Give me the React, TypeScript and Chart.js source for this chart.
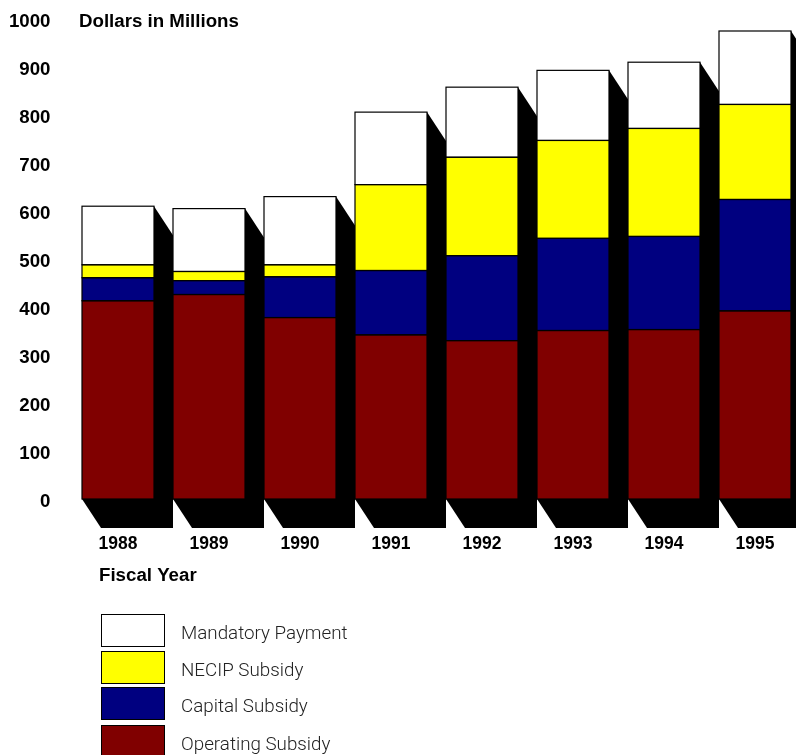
import React, { useEffect, useRef } from "react";
import { Chart, registerables } from "chart.js";

Chart.register(...registerables);

const years = ["1988", "1989", "1990", "1991", "1992", "1993", "1994", "1995"];
const operating = [413, 426, 378, 342, 330, 351, 353, 392];
const capital = [48, 29, 85, 134, 177, 192, 194, 232];
const necip = [27, 19, 25, 179, 205, 204, 225, 198];
const mandatory = [122, 131, 142, 151, 146, 146, 138, 153];
const yTicks = [0, 100, 200, 300, 400, 500, 600, 700, 800, 900, 1000];
const yUnits = "Dollars in Millions";
const xUnits = "Fiscal Year";
const BOLD = "bold 18.7px 'Liberation Sans', Arial, sans-serif";
const LIGHT = "300 18.8px Roboto, 'Liberation Sans', sans-serif";

const DEPTH_X = 19;
const DEPTH_Y = 29;

const extrude = {
  id: "extrude",
  beforeDatasetsDraw(chart: any) {
    const { ctx } = chart;
    const base = chart.getDatasetMeta(0).data;
    const top = chart.getDatasetMeta(3).data;
    ctx.save();
    ctx.fillStyle = "#000";
    base.forEach((b: any, i: number) => {
      const t = top[i];
      const l = b.x - b.width / 2;
      const r = b.x + b.width / 2;
      const by = chart.scales.y.getPixelForValue(0);
      ctx.beginPath();
      ctx.moveTo(l, by);
      ctx.lineTo(l + DEPTH_X, by + DEPTH_Y);
      ctx.lineTo(r + DEPTH_X, by + DEPTH_Y);
      ctx.lineTo(r + DEPTH_X, t.y + DEPTH_Y);
      ctx.lineTo(r, t.y);
      ctx.closePath();
      ctx.fill();
    });
    ctx.restore();
  },
  afterDatasetsDraw(chart: any) {
    const { ctx } = chart;
    ctx.save();
    ctx.strokeStyle = "#000";
    ctx.lineWidth = 1.2;
    chart.data.datasets.forEach((_: any, d: number) => {
      chart.getDatasetMeta(d).data.forEach((e: any) => {
        ctx.strokeRect(e.x - e.width / 2, e.y, e.width, e.base - e.y);
      });
    });
    ctx.restore();
  },
};

const annotations = {
  id: "annotations",
  afterDraw(chart: any) {
    const { ctx } = chart;
    ctx.save();
    ctx.fillStyle = "#000";
    ctx.font = BOLD;
    ctx.textBaseline = "middle";
    ctx.textAlign = "left";
    ctx.fillText(yUnits, 79, 22);
    ctx.fillText(xUnits, 99, 576);
    const rows = [...chart.data.datasets].reverse();
    const boxTops = [614, 651, 687, 725];
    rows.forEach((ds: any, i: number) => {
      ctx.fillStyle = ds.backgroundColor;
      ctx.strokeStyle = "#000";
      ctx.lineWidth = 1;
      ctx.fillRect(101, boxTops[i], 64, 32);
      ctx.strokeRect(101.5, boxTops[i] + 0.5, 63, 32);
      ctx.fillStyle = "#222";
      ctx.font = LIGHT;
      ctx.fillText(ds.label, 181, boxTops[i] + 20);
    });
    ctx.restore();
  },
};

export default function App() {
  const ref = useRef<HTMLCanvasElement>(null);
  useEffect(() => {
    const mk = (label: string, data: number[], color: string) => ({
      label,
      data,
      backgroundColor: color,
      borderWidth: 0,
      barPercentage: 72 / 91,
      categoryPercentage: 1,
    });
    const chart = new Chart(ref.current!, {
      type: "bar",
      data: {
        labels: years,
        datasets: [
          mk("Operating Subsidy", operating, "#800000"),
          mk("Capital Subsidy", capital, "#000080"),
          mk("NECIP Subsidy", necip, "#ffff00"),
          mk("Mandatory Payment", mandatory, "#ffffff"),
        ],
      },
      plugins: [extrude, annotations],
      options: {
        animation: false,
        responsive: false,
        layout: { padding: { left: 0, right: 29.5, top: 19, bottom: 0 } },
        plugins: { legend: { display: false }, title: { display: false }, tooltip: { enabled: false } },
        scales: {
          x: {
            stacked: true,
            grid: { display: false },
            border: { display: false },
            afterFit: (s: any) => { s.height = 256; },
            ticks: {
              color: "#000",
              font: { family: "'Liberation Sans', Arial, sans-serif", size: 17.5, weight: "bold" },
              padding: 27,
              maxRotation: 0,
            },
          },
          y: {
            stacked: true,
            min: 0,
            max: 1000,
            grid: { display: false },
            border: { display: false },
            afterFit: (s: any) => {
              s.width = 72.5;
              s.paddingTop = 0;
              s.paddingBottom = 0;
              if (!s.__shifted) {
                s.__shifted = true;
                const draw = s.drawLabels;
                s.drawLabels = function (area: any) {
                  s.ctx.save();
                  s.ctx.translate(0, 3);
                  draw.call(s, area);
                  s.ctx.restore();
                };
              }
            },
            afterBuildTicks: (s: any) => { s.ticks = yTicks.map((value) => ({ value })); },
            ticks: {
              color: "#000",
              font: { family: "'Liberation Sans', Arial, sans-serif", size: 18.7, weight: "bold" },
              padding: 14,
              callback: (v: any) => String(v),
            },
          },
        },
      },
    } as any);
    return () => chart.destroy();
  }, []);
  return (
    <div style={{ position: "absolute", left: 0, top: 0, width: 796, height: 755, overflow: "hidden" }}>
      <canvas ref={ref} width={830} height={755} style={{ display: "block" }} />
    </div>
  );
}
